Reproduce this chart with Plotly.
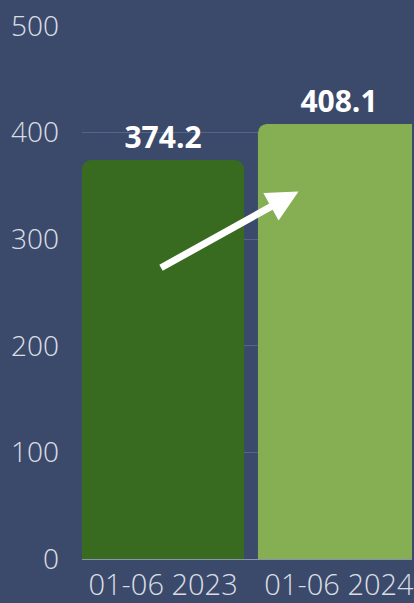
import plotly.graph_objects as go

categories = ["01-06 2023", "01-06 2024"]
values = [374.2, 408.1]
bar_colors = ["#386a20", "#86ae52"]
y_ticks = [0, 100, 200, 300, 400, 500]

fig = go.Figure()
fig.add_trace(go.Bar(
    x=categories, y=values,
    marker=dict(color=bar_colors, line=dict(width=0)),
    width=0.921,
    text=[f"{v:.1f}" for v in values],
    textposition="outside",
    textfont=dict(family="Open Sans", size=30, color="#ffffff", weight=700),
    cliponaxis=False,
))

# arrow indicating growth from first to second bar
fig.add_annotation(
    x=0.77, y=values[1] * 0.845, xref="x", yref="y",
    ax=-0.02, ay=values[0] * 0.728, axref="x", ayref="y",
    showarrow=True, arrowhead=2, arrowsize=0.9, arrowwidth=7,
    arrowcolor="#ffffff", text="",
)

light = "Open Sans Light, Open Sans"
fig.update_layout(
    width=414, height=603,
    margin=dict(l=82, r=0, t=26, b=41),
    paper_bgcolor="#3b4a6b", plot_bgcolor="#3b4a6b",
    barcornerradius=9,
    showlegend=False,
    font=dict(family="Open Sans", color="#d9dde4"),
)
fig.update_xaxes(
    range=[-0.4605, 1.415], showgrid=False,
    showline=True, linecolor="#8a95ab", linewidth=1,
    tickfont=dict(family=light, size=29, color="#d9dde4", weight=300),
    ticks="", ticklabelstandoff=0,
)
fig.update_yaxes(
    range=[0, 500], tickvals=y_ticks,
    showgrid=True, gridcolor="#56648a", gridwidth=1, zeroline=False,
    tickfont=dict(family=light, size=28, color="#d9dde4", weight=300),
    ticklabelstandoff=22,
)

fig.write_html(
    "out.html",
    config={"displayModeBar": False},
    post_script="document.body.style.margin='0';document.body.style.overflow='hidden';",
)
